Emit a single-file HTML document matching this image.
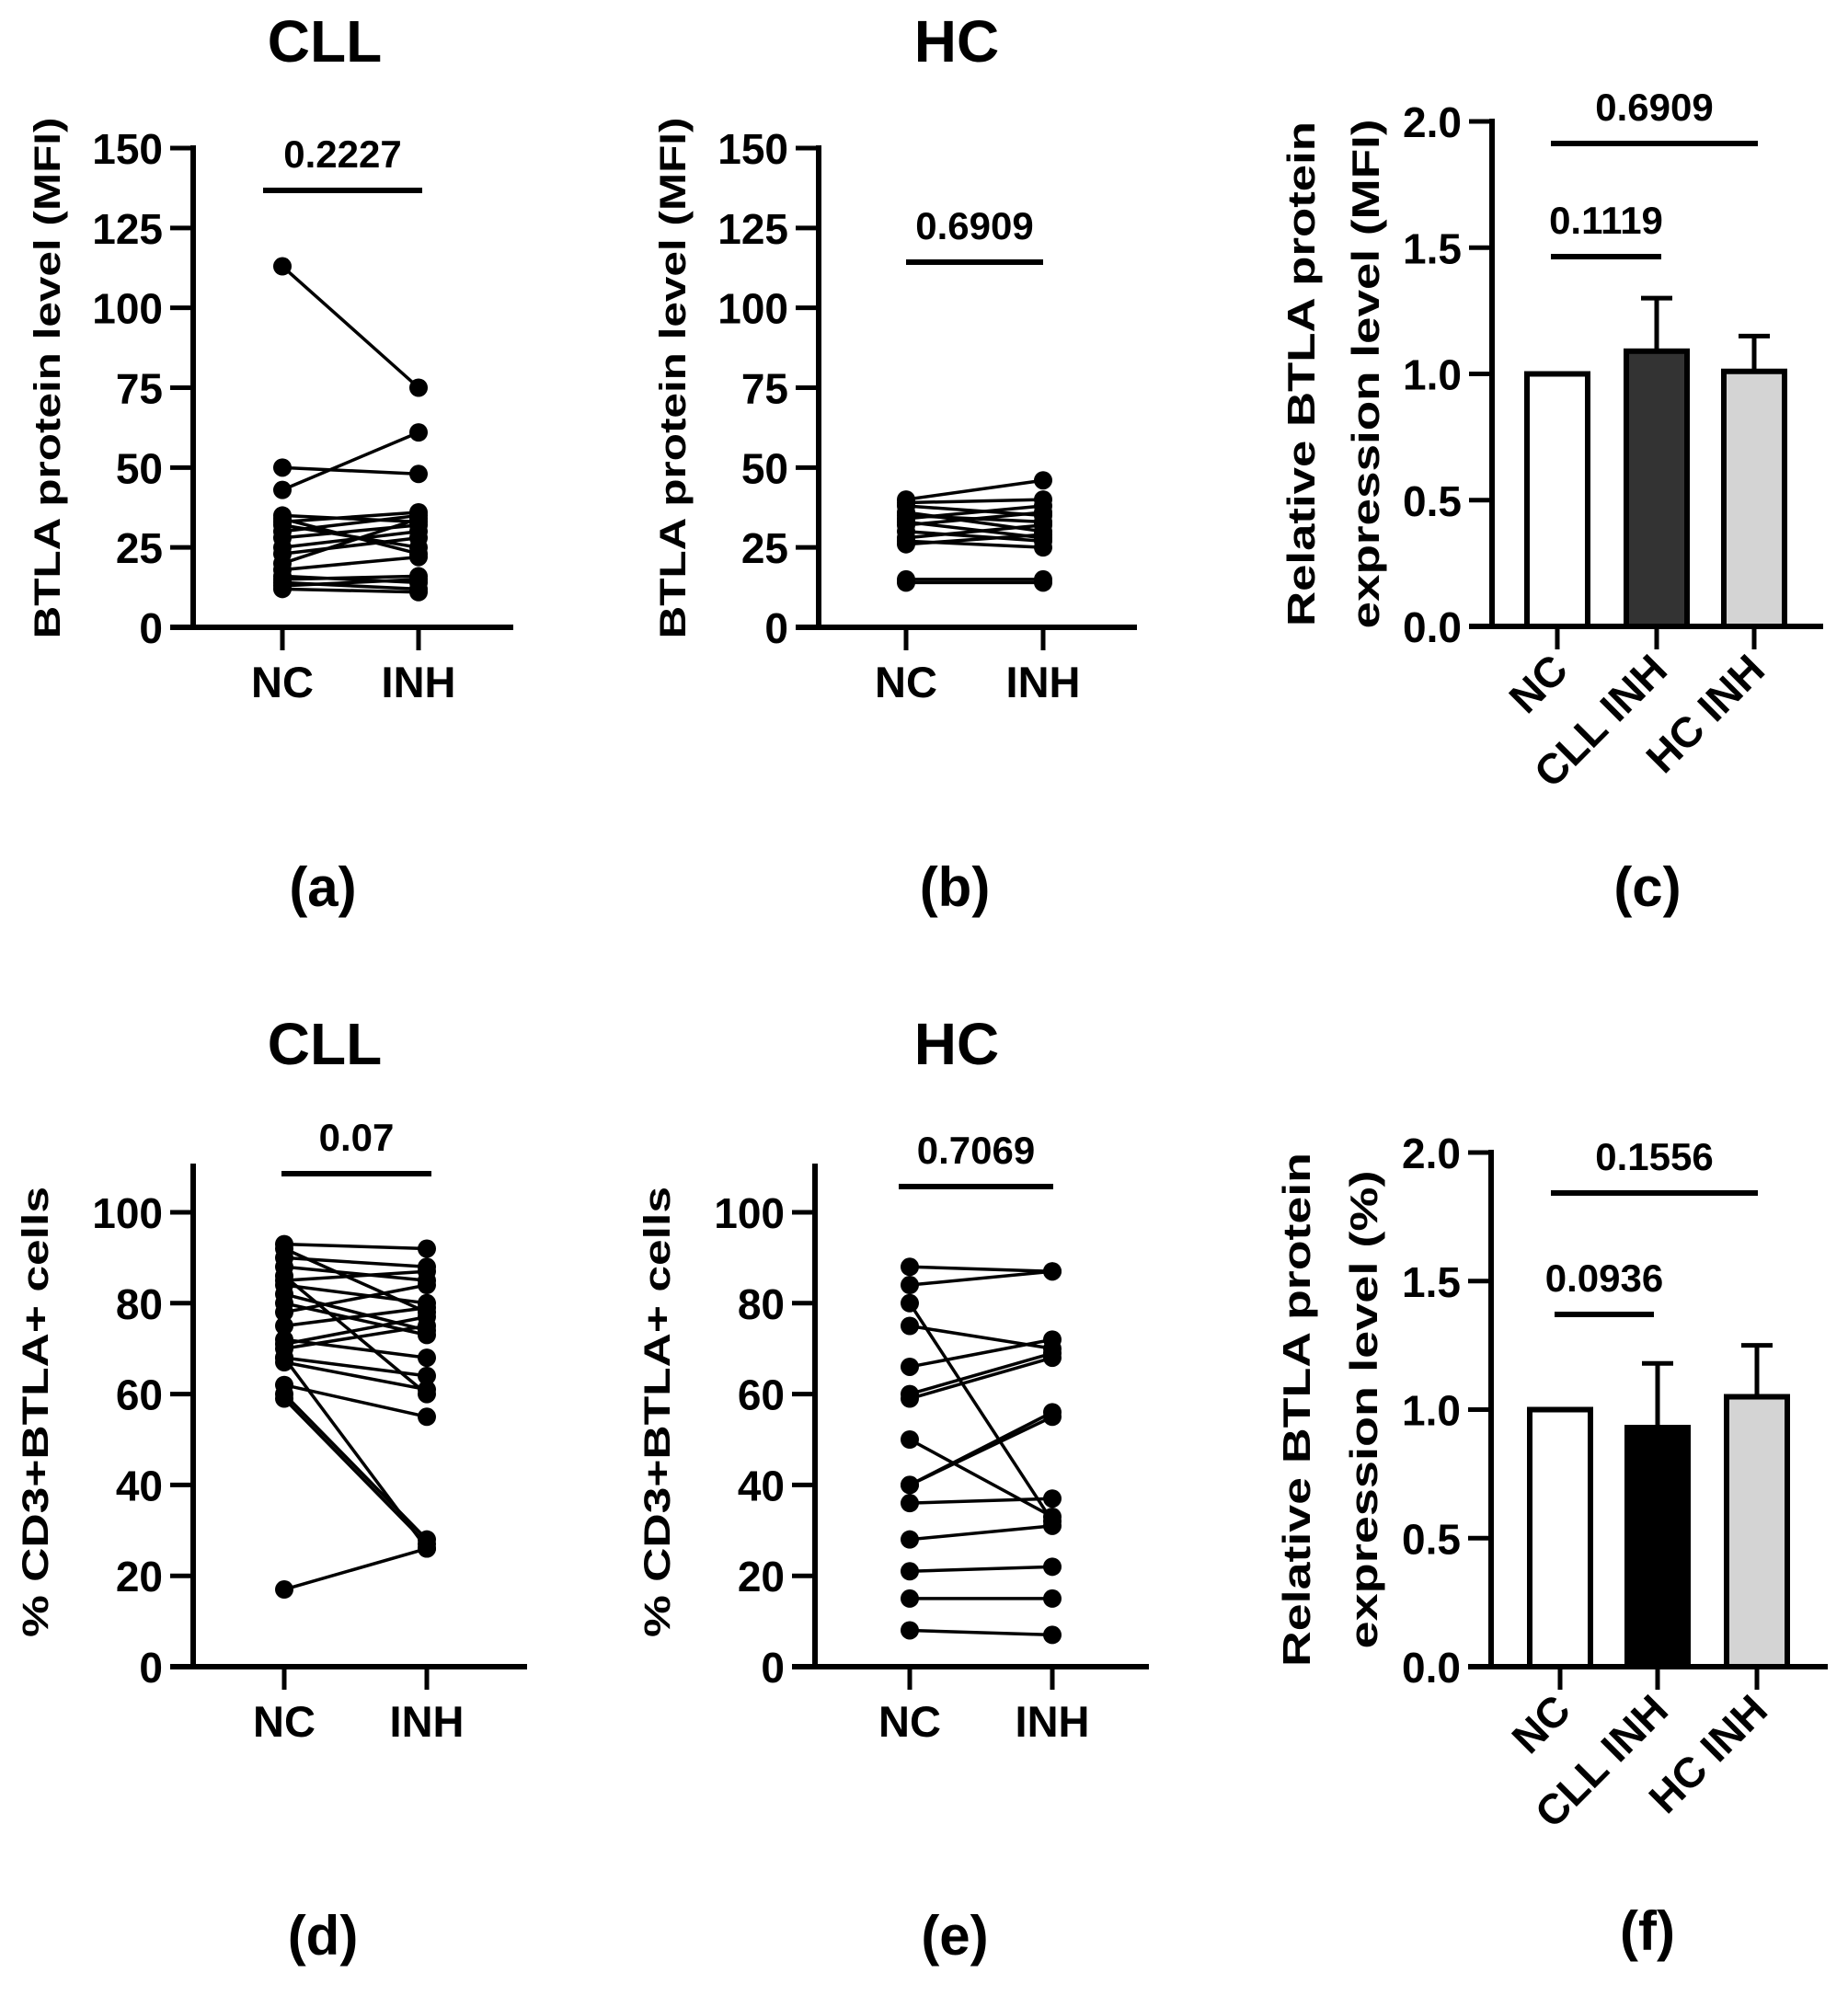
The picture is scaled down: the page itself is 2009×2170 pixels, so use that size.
<!DOCTYPE html>
<html><head><meta charset="utf-8"><style>
html,body{margin:0;padding:0;background:#fff;}
svg{display:block;}
text{font-family:"Liberation Sans",Arial,sans-serif;font-weight:bold;fill:#000;}
</style></head><body>
<svg id="fig" width="2009" height="2170" viewBox="0 0 2009 2170" xmlns="http://www.w3.org/2000/svg"></svg>
<script>
// ---- Data ----
// Panel a (CLL, MFI)
const aNC  = [113, 50, 43, 35, 33, 32, 30, 28, 25, 23, 20, 18, 16, 15, 14, 13, 12, 34];
const aINH = [75, 48, 61, 33, 36, 25, 35, 32, 30, 28, 34, 22, 14, 16, 12, 15, 11, 23];
// Panel b (HC, MFI)
const bNC  = [40, 39, 38, 36, 35, 34, 33, 32, 30, 28, 27, 26, 15, 14];
const bINH = [46, 40, 35, 30, 33, 38, 28, 36, 27, 32, 25, 29, 15, 14];
// Panel d (CLL, %)
const dNC  = [93, 92, 90, 88, 85, 84, 82, 80, 78, 75, 72, 71, 70, 68, 67, 62, 60, 59, 68, 17, 86];
const dINH = [92, 78, 88, 85, 87, 80, 74, 73, 84, 79, 68, 77, 75, 64, 61, 55, 28, 27, 26, 26, 60];
// Panel e (HC, %)
const eNC  = [88, 84, 80, 75, 66, 60, 59, 50, 40, 40, 36, 28, 21, 15, 8];
const eINH = [87, 87, 32, 70, 72, 69, 68, 33, 56, 55, 37, 31, 22, 15, 7];
// Panels c, f bar data
const barCats = ["NC", "CLL INH", "HC INH"];
const cMeans = [1.0, 1.09, 1.01];
const cErr   = [0, 0.21, 0.14];
const fMeans = [1.0, 0.93, 1.05];
const fErr   = [0, 0.25, 0.20];
const ticksMFI = [0, 25, 50, 75, 100, 125, 150];
const ticksPct = [0, 20, 40, 60, 80, 100];
const ticksRel = [0.0, 0.5, 1.0, 1.5, 2.0];

const svg = document.getElementById('fig');
const NS = 'http://www.w3.org/2000/svg';
function el(tag, attrs, parent) {
  const e = document.createElementNS(NS, tag);
  for (const k in attrs) e.setAttribute(k, attrs[k]);
  (parent || svg).appendChild(e);
  return e;
}
function txt(s, x, y, size, anchor, name, extra) {
  const t = el('text', Object.assign({x: x, y: y, 'font-size': size, 'text-anchor': anchor || 'middle'}, extra || {}));
  t.textContent = s;
  
  
  return t;
}
function scale(d0, d1, r0, r1) { return v => r0 + (v - d0) * (r1 - r0) / (d1 - d0); }

function yAxis(g, axX, yS, ticks, top, bottom, fmt, name) {
  const ax = el('line', {x1: axX, y1: top, x2: axX, y2: bottom + 3, stroke: '#000', 'stroke-width': 6}, g);
  
  
  ticks.forEach(t => {
    const tk = el('line', {x1: axX - 25, y1: yS(t), x2: axX, y2: yS(t), stroke: '#000', 'stroke-width': 5}, g);
    
    
    txt(fmt(t), axX - 33, yS(t) + 17, 46, 'end', name + '-y-tick-label');
  });
}
function xAxis(g, x0, x1, y, name) {
  const ax = el('line', {x1: x0, y1: y, x2: x1, y2: y, stroke: '#000', 'stroke-width': 6}, g);
  
  
}
function xTick(g, x, y, name) {
  const tk = el('line', {x1: x, y1: y, x2: x, y2: y + 25, stroke: '#000', 'stroke-width': 5}, g);
  
  
}
function sigBar(g, x0, x1, y, label, name) {
  const l = el('line', {x1: x0, y1: y, x2: x1, y2: y, stroke: '#000', 'stroke-width': 6}, g);
  
  
  txt(label, (x0 + x1) / 2, y - 25, 42, 'middle', name + '-p-value');
}
function rotLabel(s, cx, cy, size, len, name) {
  return txt(s, 0, 0, size, 'middle', name, {transform: 'translate(' + cx + ',' + cy + ') rotate(-90)', textLength: len, lengthAdjust: 'spacingAndGlyphs'});
}

function pairedPanel(o) {
  const g = el('g', {});
  
  
  const yS = scale(o.d0, o.d1, o.y0, o.y1);
  txt(o.title, o.titleX, o.titleY, 64, 'middle', o.name + '-title');
  yAxis(g, o.axX, yS, o.ticks, o.axTop, o.y0, v => String(v), o.name);
  xAxis(g, o.axX - 25, o.axEnd, o.y0, o.name);
  [o.xNC, o.xINH].forEach(x => xTick(g, x, o.y0, o.name));
  txt('NC', o.xNC, o.labY, 47, 'middle', o.name + '-x-label-nc');
  txt('INH', o.xINH, o.labY, 47, 'middle', o.name + '-x-label-inh');
  rotLabel(o.ylab, o.ylabX, o.ylabY, 40, o.ylabLen, o.name + '-y-axis-title');
  for (let i = 0; i < o.nc.length; i++) {
    const ln = el('line', {x1: o.xNC, y1: yS(o.nc[i]), x2: o.xINH, y2: yS(o.inh[i]), stroke: '#000', 'stroke-width': 3.5}, g);
    
    
  }
  for (let i = 0; i < o.nc.length; i++) {
    const p1 = el('circle', {cx: o.xNC, cy: yS(o.nc[i]), r: 10, fill: '#000'}, g);
    
    
    const p2 = el('circle', {cx: o.xINH, cy: yS(o.inh[i]), r: 10, fill: '#000'}, g);
    
    
  }
  sigBar(g, o.sig[0], o.sig[1], o.sig[2], o.p, o.name);
  txt(o.panel, o.titleX - 2, o.panelY, 60, 'middle', o.name + '-panel-label');
}

function barPanel(o) {
  const g = el('g', {});
  
  
  const yS = scale(0, 2, o.y0, o.y1);
  const fills = ['#ffffff', o.midFill, '#d4d4d4'];
  const w = 66;
  o.means.forEach((m, i) => {
    const cx = o.xs[i];
    if (o.err[i] > 0) {
      const e1 = el('line', {x1: cx, y1: yS(m), x2: cx, y2: yS(m + o.err[i]), stroke: '#000', 'stroke-width': 5}, g);
      
      
      const e2 = el('line', {x1: cx - 17, y1: yS(m + o.err[i]), x2: cx + 17, y2: yS(m + o.err[i]), stroke: '#000', 'stroke-width': 5}, g);
      
      
    }
    const r = el('rect', {x: cx - w / 2, y: yS(m), width: w, height: o.y0 - yS(m), fill: fills[i], stroke: '#000', 'stroke-width': 6}, g);
    
    
    xTick(g, cx, o.y0, o.name);
    txt(barCats[i], cx + 14, o.y0 + 50, 46, 'end', o.name + '-x-label', {transform: 'rotate(-45 ' + (cx + 14) + ' ' + (o.y0 + 50) + ')'});
  });
  yAxis(g, o.axX, yS, ticksRel, o.y1 - 3, o.y0, v => v.toFixed(1), o.name);
  xAxis(g, o.axX - 25, o.axEnd, o.y0, o.name);
  rotLabel('Relative BTLA protein', o.l1x, (o.y0 + o.y1) / 2, 42, o.y0 - o.y1, o.name + '-y-axis-title-1');
  rotLabel(o.l2, o.l2x, (o.y0 + o.y1) / 2, 42, o.l2len, o.name + '-y-axis-title-2');
  sigBar(g, o.sigA[0], o.sigA[1], o.sigA[2], o.pA, o.name + '-wide');
  sigBar(g, o.sigB[0], o.sigB[1], o.sigB[2], o.pB, o.name + '-short');
  txt(o.panel, 1791, o.panelY, 60, 'middle', o.name + '-panel-label');
}

pairedPanel({name: 'panel-a', title: 'CLL', titleX: 353, titleY: 67, d0: 0, d1: 150, y0: 682, y1: 161, axTop: 158,
  ticks: ticksMFI, axX: 210, axEnd: 558, xNC: 307, xINH: 455, labY: 758, ylab: 'BTLA protein level (MFI)', ylabX: 65, ylabY: 411, ylabLen: 567,
  nc: aNC, inh: aINH, sig: [286, 459, 207], p: '0.2227', panel: '(a)', panelY: 985});
pairedPanel({name: 'panel-b', title: 'HC', titleX: 1040, titleY: 67, d0: 0, d1: 150, y0: 682, y1: 161, axTop: 158,
  ticks: ticksMFI, axX: 890, axEnd: 1236, xNC: 985, xINH: 1134, labY: 758, ylab: 'BTLA protein level (MFI)', ylabX: 745, ylabY: 411, ylabLen: 567,
  nc: bNC, inh: bINH, sig: [985, 1134, 285], p: '0.6909', panel: '(b)', panelY: 985});
pairedPanel({name: 'panel-d', title: 'CLL', titleX: 353, titleY: 1157, d0: 0, d1: 100, y0: 1812, y1: 1318, axTop: 1265,
  ticks: ticksPct, axX: 210, axEnd: 573, xNC: 309, xINH: 464, labY: 1888, ylab: '% CD3+BTLA+ cells', ylabX: 52, ylabY: 1535, ylabLen: 490,
  nc: dNC, inh: dINH, sig: [306, 469, 1276], p: '0.07', panel: '(d)', panelY: 2125});
pairedPanel({name: 'panel-e', title: 'HC', titleX: 1040, titleY: 1157, d0: 0, d1: 100, y0: 1812, y1: 1318, axTop: 1265,
  ticks: ticksPct, axX: 886, axEnd: 1249, xNC: 989, xINH: 1144, labY: 1888, ylab: '% CD3+BTLA+ cells', ylabX: 728, ylabY: 1535, ylabLen: 490,
  nc: eNC, inh: eINH, sig: [977, 1145, 1290], p: '0.7069', panel: '(e)', panelY: 2125});

barPanel({name: 'panel-c', means: cMeans, err: cErr, midFill: '#333333', y0: 681, y1: 132, axX: 1622, axEnd: 1982,
  xs: [1693, 1801, 1907], l1x: 1429, l2x: 1499, l2: 'expression level (MFI)', l2len: 554,
  sigA: [1686, 1911, 156], pA: '0.6909', sigB: [1686, 1806, 279], pB: '0.1119', panel: '(c)', panelY: 985});
barPanel({name: 'panel-f', means: fMeans, err: fErr, midFill: '#000000', y0: 1812, y1: 1253, axX: 1621, axEnd: 1987,
  xs: [1696, 1802, 1910], l1x: 1424, l2x: 1497, l2: 'expression level (%)', l2len: 520,
  sigA: [1686, 1911, 1297], pA: '0.1556', sigB: [1690, 1798, 1429], pB: '0.0936', panel: '(f)', panelY: 2120});
</script>
</body></html>
